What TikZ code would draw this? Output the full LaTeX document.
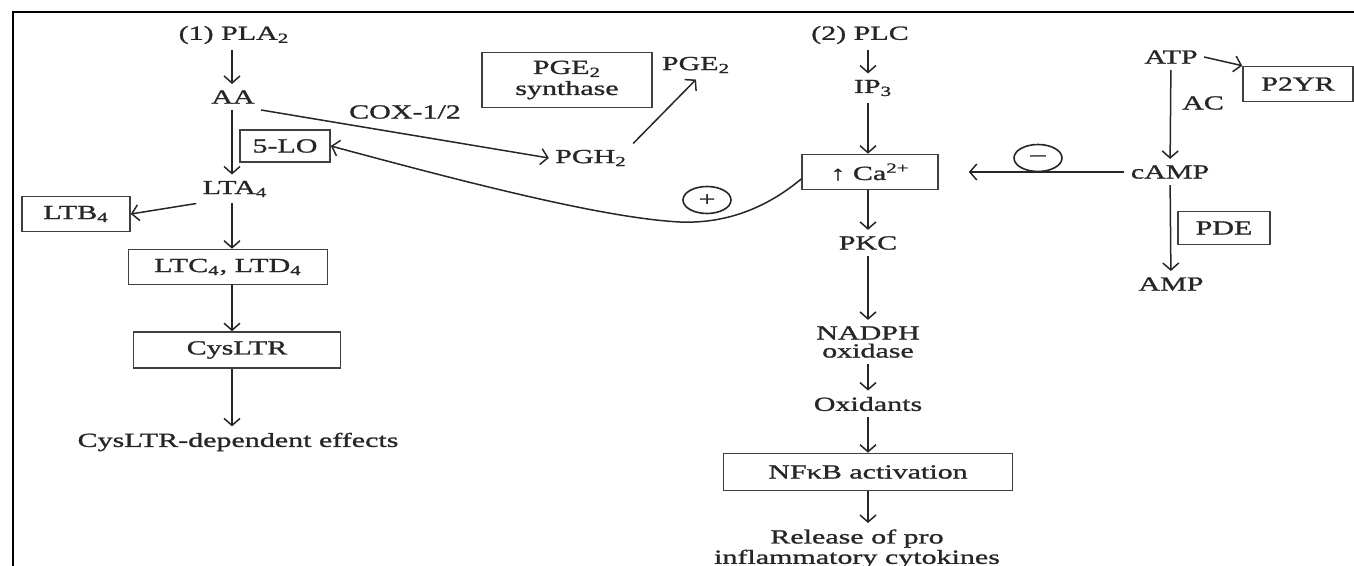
\documentclass[tikz,border=0pt]{standalone}
\usepackage{fontspec}
\setmainfont{Liberation Serif}[FakeStretch=1.5, FakeBold=1.2]
\usetikzlibrary{arrows.meta,shapes.geometric}

\begin{document}
\begin{tikzpicture}[
    x=0.5pt, y=-0.5pt,
    every node/.style={font=\fontsize{10}{9}\selectfont, text=black!85},
    txt/.style={inner sep=3pt, align=center},
    box/.style={draw=black!75, line width=0.8pt, inner sep=0pt, align=center,
        minimum height=17.5pt},
    sign/.style={draw=black!85, ellipse, line width=0.8pt, minimum width=24pt,
        minimum height=13.5pt, inner sep=0pt},
    arr/.style={-{Straight Barb[length=3.5pt,width=8pt]}, line width=0.75pt, draw=black!85}
]
    \useasboundingbox (0,0) rectangle (1354,566);
    \draw[line width=1.1pt] (13,566) -- (13,12) -- (1354,12);

    \coordinate (c1) at (232,0);
    \coordinate (c2) at (868,0);

    \node[txt] (pla) at (234,35) {(1) PLA\textsubscript{2}};
    \node[txt] (aa) at (233,97) {AA};
    \node[box, minimum width=45pt, minimum height=16pt] (lo) at (285,146) {5-LO};
    \node[txt] (lta) at (235,189) {LTA\textsubscript{4}};
    \node[box, minimum width=54pt] (ltb) at (76,214) {LTB\textsubscript{4}};
    \node[box, minimum width=99.5pt] (ltc) at (228,267) {LTC\textsubscript{4}, LTD\textsubscript{4}};
    \node[box, minimum width=103.5pt, minimum height=18pt] (cys) at (237,350) {CysLTR};
    \node[txt] (eff) at (238,442) {CysLTR-dependent effects};

    \node[txt] (cox) at (405,112) {COX-1/2};
    \node[txt] (pgh) at (591,158) {PGH\textsubscript{2}};
    \node[box, minimum width=85pt, minimum height=27.5pt, font=\fontsize{10}{10.5}\selectfont]
        (pges) at (567,80) {PGE\textsubscript{2}\\synthase};
    \node[txt] (pge) at (696,65) {PGE\textsubscript{2}};
    \node[sign] (plus) at (707,200) {+};

    \node[txt] (plc) at (860,35) {(2) PLC};
    \node[txt] (ip) at (873,88) {IP\textsubscript{3}};
    \node[box, minimum width=68pt] (ca) at (870,172) {↑ Ca\textsuperscript{2+}};
    \node[txt] (pkc) at (868,243) {PKC};
    \node[txt] (nadph) at (868,342) {NADPH\\oxidase};
    \node[txt] (oxi) at (868,404) {Oxidants};
    \node[box, minimum width=144.5pt, minimum height=18.5pt] (nfkb) at (868,472) {NFκB activation};
    \node[txt, anchor=north] (rel) at (857,523) {Release of pro\\inflammatory cytokines};

    \node[txt] (atp) at (1171,57) {ATP};
    \node[box, minimum width=55pt] (p2yr) at (1298,84) {P2YR};
    \node[txt] (ac) at (1203,103) {AC};
    \node[txt] (camp) at (1170,172) {cAMP};
    \node[sign] (minus) at (1038,158) {--};
    \node[box, minimum width=46pt, minimum height=16.5pt] (pde) at (1224,228) {PDE};
    \node[txt] (amp) at (1171,284) {AMP};

    \draw[arr] (pla.south -| c1) -- (aa.north -| c1);
    \draw[arr] (aa.south -| c1) -- (lta.north -| c1);
    \draw[arr] (lta.south west) -- (ltb.east);
    \draw[arr] (lta.south -| c1) -- (ltc.north -| c1);
    \draw[arr] (ltc.south -| c1) -- (cys.north -| c1);
    \draw[arr] (cys.south -| c1) -- (eff.north -| c1);
    \draw[arr] (aa.south east) -- (pgh.west);
    \draw[arr] (pgh.north east) -- (pge.south);
    \draw[arr] ([yshift=-3.5pt]ca.west) .. controls (770,205) and (730,224) .. (680,222)
        .. controls (600,218) and (450,178) .. (lo.east);

    \draw[arr] (plc.south -| c2) -- (ip.north -| c2);
    \draw[arr] (ip.south -| c2) -- (ca.north -| c2);
    \draw[arr] (ca.south -| c2) -- (pkc.north -| c2);
    \draw[arr] (pkc) -- (nadph);
    \draw[arr] (nadph) -- (oxi);
    \draw[arr] (oxi) -- (nfkb);
    \draw[arr] (nfkb.south -| c2) -- (rel.north -| c2);

    \draw[arr] (atp) -- (camp);
    \draw[arr] (atp.east) -- (p2yr.north west);
    \draw[arr, shorten >=15pt] (camp.west) -- (ca.east);
    \draw[arr] (camp) -- (amp);
\end{tikzpicture}
\end{document}
